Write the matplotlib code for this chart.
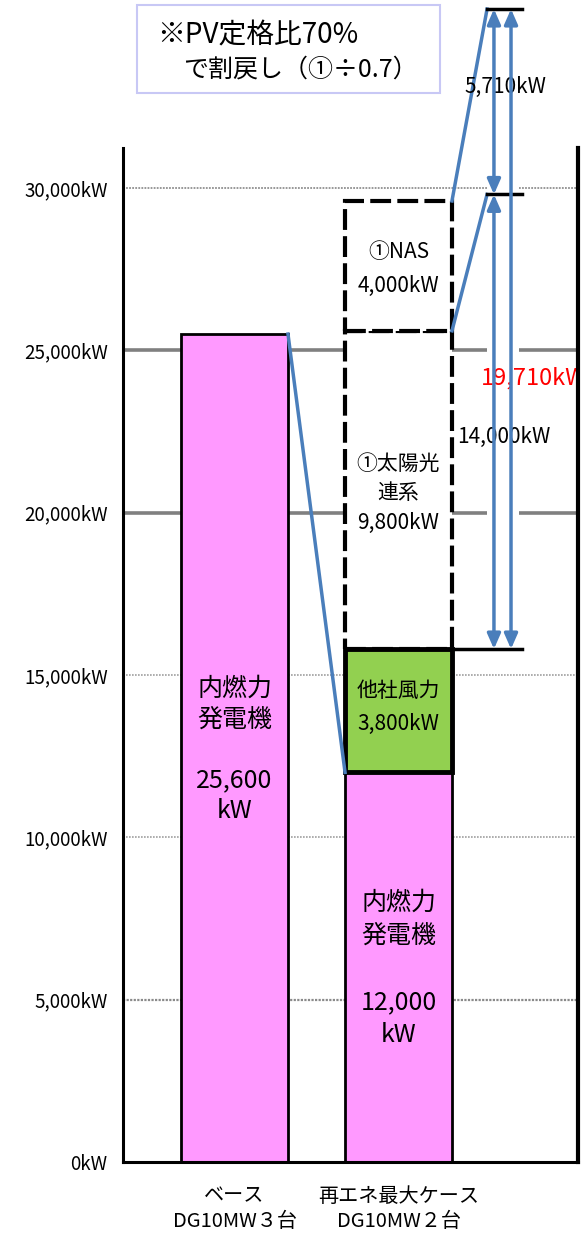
import matplotlib
matplotlib.use("Agg")
import matplotlib.pyplot as plt
from matplotlib.patches import Rectangle

plt.rcParams['font.family'] = ['Noto Sans CJK JP', 'DejaVu Sans']

# ---- data ----
categories = ['ベース\nDG10MW３台', '再エネ最大ケース\nDG10MW２台']
base_dg = 25500
case_dg = 12000
case_wind = 3800
case_pv = 9800
case_nas = 4000
pv_ratio = 0.7
pv_return = 14000
nas_return = 5710
total_return = 19710
yticks = [0, 5000, 10000, 15000, 20000, 25000, 30000]
base_label = '内燃力\n発電機\n\n25,600\nkW'
dg_label = '内燃力\n発電機\n\n12,000\nkW'
wind_label = '他社風力\n3,800kW'
pv_label = '①太陽光\n連系\n9,800kW'
nas_label = '①NAS\n4,000kW'

PINK = '#ff99ff'
GREEN = '#92d050'
BLUE = '#4a7ebb'

fig = plt.figure(figsize=(5.88, 12.33), dpi=100)
ax = fig.add_axes([123/588, 71/1233, 455/588, 1014/1233])
ax.set_xlim(-0.680, 2.0945)
ax.set_ylim(0, 31230)

# gridlines
gstyle = {0: None,
          5000: dict(color='#8a8a8a', lw=1.6, ls=(0, (1, 0.6))),
          10000: dict(color='#a0a0a0', lw=1.2, ls=(0, (1, 0.8))),
          15000: dict(color='#a0a0a0', lw=1.2, ls=(0, (1, 0.8))),
          20000: dict(color='#808080', lw=2.6, ls='-'),
          25000: dict(color='#808080', lw=2.6, ls='-'),
          30000: dict(color='#909090', lw=1.3, ls=(0, (1, 0.7)))}
for t in yticks:
    st = gstyle[t]
    if st:
        ax.axhline(t, zorder=0.5, **st)

w = 0.652
# base bar
ax.bar(0, base_dg, width=w, color=PINK, edgecolor='black', lw=2, zorder=2)
# case bars
ax.bar(1, case_dg, width=w, color=PINK, edgecolor='black', lw=2, zorder=2)
ax.bar(1, case_wind, bottom=case_dg, width=w, color=GREEN, edgecolor='black', lw=3.5, zorder=2.2)
pv_bottom = case_dg + case_wind
ax.bar(1, case_pv, bottom=pv_bottom, width=w, color='white', edgecolor='black', lw=3,
       ls=(0, (5, 1.5)), zorder=2.1)
nas_bottom = pv_bottom + case_pv
ax.bar(1, case_nas, bottom=nas_bottom, width=w, color='white', edgecolor='black', lw=3,
       ls=(0, (5, 1.5)), zorder=2.1)

# bar labels
ax.text(0, 12690, base_label, ha='center', va='center', fontsize=18, linespacing=1.22, zorder=5)
ax.text(1, 5950, dg_label, ha='center', va='center', fontsize=18, linespacing=1.36, zorder=5)
ax.text(1, case_dg + case_wind / 2 + 100, wind_label, ha='center', va='center', fontsize=15,
        linespacing=1.7, zorder=5)
ax.text(1, 20590, pv_label, ha='center', va='center', fontsize=15, linespacing=1.45, zorder=5)
ax.text(1, 27500, nas_label, ha='center', va='center', fontsize=15, linespacing=1.68, zorder=5)

# white background behind arrows
x_l, x_r = 1.540, 1.735
ax.add_patch(Rectangle((x_l, pv_bottom), x_r - x_l, 31230 - pv_bottom, facecolor='white',
                       edgecolor='none', zorder=1))

# connecting blue lines
re = 1 + w / 2
le = 1 - w / 2
ax.plot([w / 2, le], [base_dg, case_dg], color=BLUE, lw=2.5, zorder=3, clip_on=False)
ax.plot([re, 1.540], [nas_bottom, pv_bottom + pv_return], color=BLUE, lw=2.5, zorder=3, clip_on=False)
ax.plot([re, 1.540], [nas_bottom + case_nas, pv_bottom + total_return], color=BLUE, lw=2.5,
        zorder=3, clip_on=False)

# black horizontal ticks
ax.plot([re, 1.753], [pv_bottom, pv_bottom], color='black', lw=2.5, zorder=3, clip_on=False)
ax.plot([1.540, 1.753], [pv_bottom + pv_return] * 2, color='black', lw=2.5, zorder=3, clip_on=False)
ax.plot([1.540, 1.753], [pv_bottom + total_return] * 2, color='black', lw=2.5, zorder=3, clip_on=False)

# arrows
aprops = dict(arrowstyle='<|-|>,head_length=0.5,head_width=0.22', color=BLUE, lw=2.5,
              mutation_scale=18, shrinkA=0, shrinkB=0)
x1, x2 = 1.582, 1.686
for (xa, y0, y1) in [(x1, pv_bottom, pv_bottom + pv_return),
                     (x1, pv_bottom + pv_return, pv_bottom + total_return),
                     (x2, pv_bottom, pv_bottom + total_return)]:
    an = ax.annotate('', xy=(xa, y1), xytext=(xa, y0), arrowprops=aprops,
                     annotation_clip=False, zorder=4)
    an.set_clip_on(False)

ax.text(1.65, 33110, '5,710kW', ha='center', va='center', fontsize=15, zorder=3.5, clip_on=False)
ax.text(1.643, 22330, '14,000kW', ha='center', va='center', fontsize=15, zorder=3.5)
ax.text(1.503, 24150, '19,710kW', ha='left', va='center', fontsize=17, color='#ff0000',
        zorder=3.5, clip_on=True)

# axes styling
for s in ['left', 'bottom', 'right']:
    ax.spines[s].set_linewidth(2.2)
    ax.spines[s].set_color('black')
    ax.spines[s].set_zorder(6)
ax.spines['right'].set_linewidth(3)
ax.spines['top'].set_visible(False)
ax.set_yticks(yticks)
ax.set_yticklabels([f'{t:,}kW' for t in yticks], fontsize=13.5)
ax.set_xticks([0, 1])
ax.set_xticklabels(categories, fontsize=14.5, linespacing=1.3)
ax.tick_params(axis='both', length=0)
ax.tick_params(axis='y', pad=11)
ax.tick_params(axis='x', pad=17)

# note box at top
fig.patches.append(Rectangle((137/588, (1233-93)/1233), 303/588, 88/1233,
                             transform=fig.transFigure, facecolor='white',
                             edgecolor='#c8c8f5', lw=1.5))
fig.text(157/588, 1 - 35/1233, '※PV定格比70%', ha='left', va='center', fontsize=20)
fig.text(183/588, 1 - 70/1233, 'で割戻し（①÷0.7）', ha='left', va='center', fontsize=18)

fig.savefig('out.png', dpi=100)
